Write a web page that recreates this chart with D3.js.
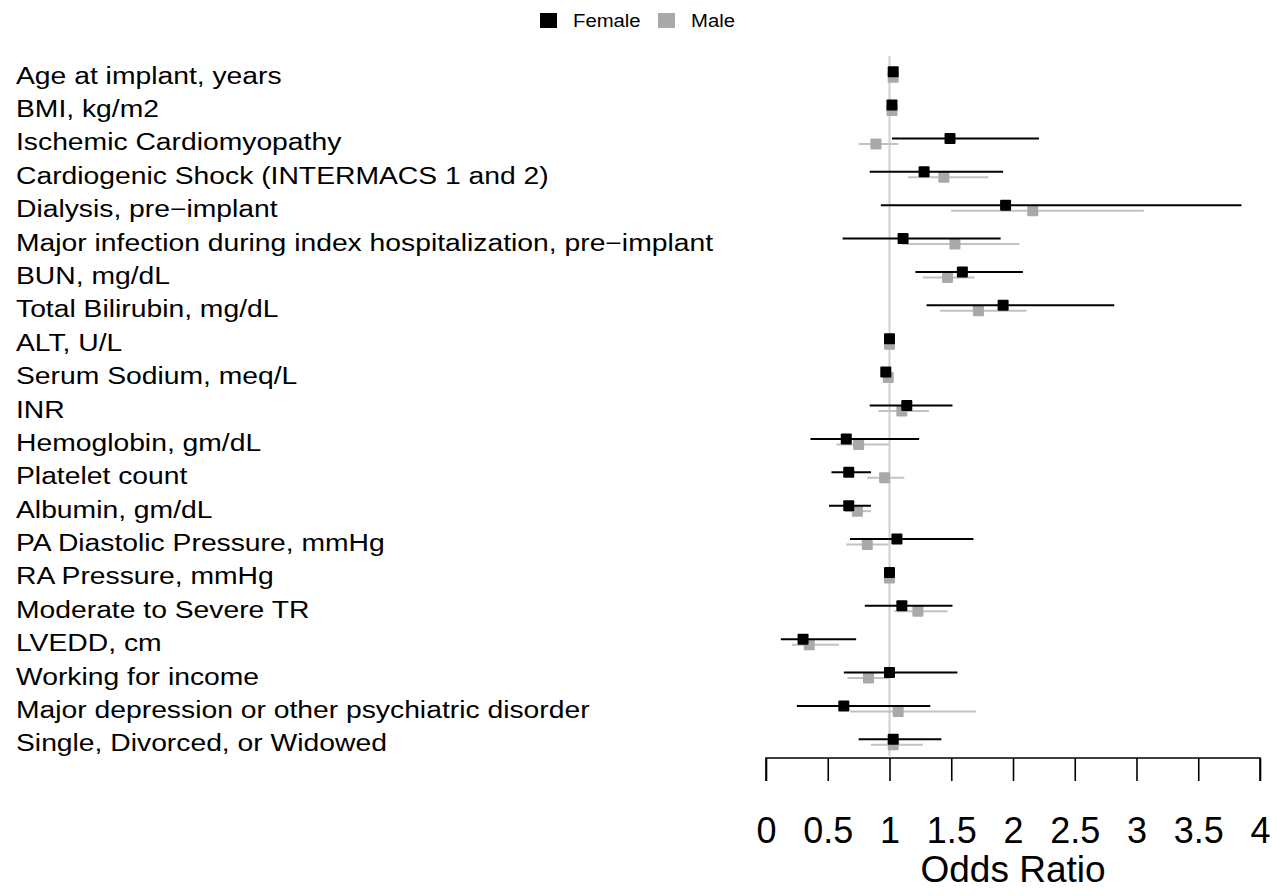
<!DOCTYPE html>
<html>
<head>
<meta charset="utf-8">
<script src="https://cdn.jsdelivr.net/npm/d3@7"></script>
<style>
  body { margin: 0; background: #fff; }
  svg { font-family: "Liberation Sans", Arial, Helvetica, sans-serif; }
</style>
</head>
<body>
<svg width="1276" height="896"></svg>
<script>
const labels = [
    'Age at implant, years',
    'BMI, kg/m2',
    'Ischemic Cardiomyopathy',
    'Cardiogenic Shock (INTERMACS 1 and 2)',
    'Dialysis, pre\u2212implant',
    'Major infection during index hospitalization, pre\u2212implant',
    'BUN, mg/dL',
    'Total Bilirubin, mg/dL',
    'ALT, U/L',
    'Serum Sodium, meq/L',
    'INR',
    'Hemoglobin, gm/dL',
    'Platelet count',
    'Albumin, gm/dL',
    'PA Diastolic Pressure, mmHg',
    'RA Pressure, mmHg',
    'Moderate to Severe TR',
    'LVEDD, cm',
    'Working for income',
    'Major depression or other psychiatric disorder',
    'Single, Divorced, or Widowed'
];

const femaleOR = [1.03, 1.02, 1.49, 1.28, 1.94, 1.11, 1.59, 1.92, 1.00, 0.97, 1.14, 0.65, 0.67, 0.67, 1.06, 1.00, 1.10, 0.30, 1.00, 0.63, 1.03];
const femaleLo = [1.02, 1.01, 1.02, 0.84, 0.93, 0.62, 1.21, 1.30, 0.99, 0.96, 0.84, 0.36, 0.53, 0.51, 0.68, 0.99, 0.80, 0.12, 0.63, 0.25, 0.75];
const femaleHi = [1.04, 1.03, 2.21, 1.92, 3.85, 1.90, 2.08, 2.82, 1.01, 0.99, 1.51, 1.24, 0.85, 0.85, 1.68, 1.02, 1.51, 0.73, 1.55, 1.33, 1.42];

const maleOR = [1.03, 1.02, 0.89, 1.44, 2.16, 1.53, 1.47, 1.72, 1.00, 0.99, 1.10, 0.75, 0.96, 0.74, 0.82, 1.00, 1.23, 0.35, 0.83, 1.07, 1.03];
const maleLo = [1.02, 1.01, 0.75, 1.15, 1.50, 1.10, 1.27, 1.41, 0.99, 0.98, 0.91, 0.57, 0.82, 0.64, 0.65, 0.99, 1.04, 0.21, 0.66, 0.68, 0.85];
const maleHi = [1.04, 1.03, 1.07, 1.80, 3.06, 2.05, 1.69, 2.11, 1.01, 1.00, 1.32, 1.00, 1.12, 0.85, 0.99, 1.01, 1.47, 0.59, 1.00, 1.70, 1.27];

const xTicks = [0, 0.5, 1, 1.5, 2, 2.5, 3, 3.5, 4];

function drawForest() {
    const svg = d3.select('svg');

    const xScale = d3.scaleLinear()
        .domain([0, 4])
        .range([766, 1260]);

    const yScale = d3.scalePoint()
        .domain(labels)
        .range([71.7, 739.3]);

    const maleOffset = 5.5;
    const half = 5.5; // half size of squares

    const female = labels.map((l, i) => ({ label: l, or: femaleOR[i], lo: femaleLo[i], hi: femaleHi[i] }));
    const male = labels.map((l, i) => ({ label: l, or: maleOR[i], lo: maleLo[i], hi: maleHi[i] }));

    // reference line at OR = 1
    svg.append('line')
        .attr('x1', xScale(1)).attr('x2', xScale(1))
        .attr('y1', 56).attr('y2', 756)
        .attr('stroke', '#cfcfcf')
        .attr('stroke-width', 2);

    // male (grey) below female
    svg.selectAll('.male-ci')
        .data(male)
        .join('line')
        .attr('class', 'male-ci')
        .attr('x1', d => xScale(d.lo))
        .attr('x2', d => xScale(d.hi))
        .attr('y1', d => yScale(d.label) + maleOffset)
        .attr('y2', d => yScale(d.label) + maleOffset)
        .attr('stroke', '#c2c2c2')
        .attr('stroke-width', 2);

    svg.selectAll('.male-pt')
        .data(male)
        .join('rect')
        .attr('class', 'male-pt')
        .attr('x', d => xScale(d.or) - half)
        .attr('y', d => yScale(d.label) + maleOffset - half)
        .attr('width', half * 2)
        .attr('height', half * 2)
        .attr('rx', 1)
        .attr('fill', '#a9a9a9');

    svg.selectAll('.female-ci')
        .data(female)
        .join('line')
        .attr('class', 'female-ci')
        .attr('x1', d => xScale(d.lo))
        .attr('x2', d => xScale(d.hi))
        .attr('y1', d => yScale(d.label))
        .attr('y2', d => yScale(d.label))
        .attr('stroke', '#000')
        .attr('stroke-width', 2);

    svg.selectAll('.female-pt')
        .data(female)
        .join('rect')
        .attr('class', 'female-pt')
        .attr('x', d => xScale(d.or) - half)
        .attr('y', d => yScale(d.label) - half)
        .attr('width', half * 2)
        .attr('height', half * 2)
        .attr('rx', 1)
        .attr('fill', '#000');

    // row labels (stretched horizontally like the original)
    svg.selectAll('.row-label')
        .data(labels)
        .join('text')
        .attr('class', 'row-label')
        .attr('transform', d => `translate(16, ${yScale(d) + 4}) scale(1.23, 1)`)
        .attr('dominant-baseline', 'central')
        .style('font-size', '23px')
        .style('fill', '#000')
        .text(d => d);

    // x axis
    const xAxis = d3.axisBottom(xScale)
        .tickValues(xTicks)
        .tickSize(23)
        .tickPadding(36)
        .tickFormat(d3.format('~g'));
    const gx = svg.append('g')
        .attr('transform', 'translate(0, 758)')
        .call(xAxis);
    gx.select('.domain').attr('stroke-width', 1.6).attr('d', `M${xScale(0)},23V0H${xScale(4)}V23`);
    gx.selectAll('.tick line').attr('stroke-width', 1.6);
    gx.selectAll('.tick text')
        .style('font-size', '36px')
        .style('font-family', '"Liberation Sans", Arial, sans-serif');

    svg.append('text')
        .text('Odds Ratio')
        .attr('x', xScale(2))
        .attr('y', 882)
        .style('text-anchor', 'middle')
        .style('font-size', '37px');

    // legend
    const legend = [
        { name: 'Female', color: '#000', x: 540 },
        { name: 'Male', color: '#a9a9a9', x: 658 }
    ];
    const lg = svg.selectAll('.legend')
        .data(legend)
        .join('g')
        .attr('class', 'legend')
        .attr('transform', d => `translate(${d.x}, 13)`);
    lg.append('rect')
        .attr('width', 17)
        .attr('height', 15)
        .attr('fill', d => d.color);
    lg.append('text')
        .attr('transform', 'translate(33, 14) scale(1.16, 1)')
        .style('font-size', '17.5px')
        .text(d => d.name);
}

window.addEventListener('load', drawForest);
</script>
</body>
</html>
